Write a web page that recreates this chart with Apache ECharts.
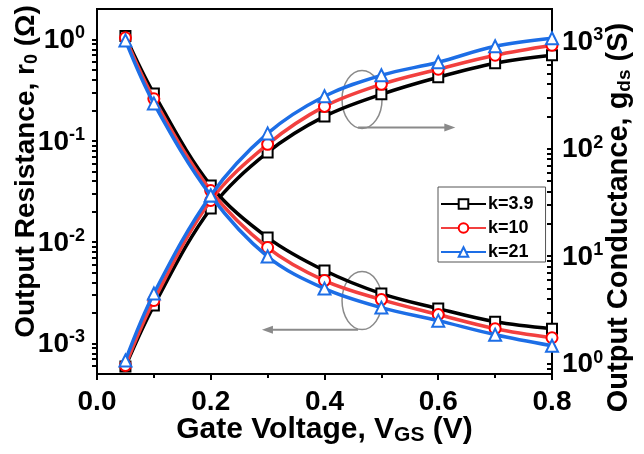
<!DOCTYPE html>
<html>
<head>
<meta charset="utf-8">
<script src="https://cdn.jsdelivr.net/npm/echarts@6/dist/echarts.min.js"></script>
<style>
  html, body { margin: 0; padding: 0; background: #fff; }
  #chart { width: 644px; height: 454px; }
</style>
</head>
<body>
<div id="chart"></div>
<script>
// gate voltage points
var vgs = [0.05, 0.1, 0.2, 0.3, 0.4, 0.5, 0.6, 0.7, 0.8];

// output resistance r0 (ohm), left axis
var r0_k39 = [1.08, 0.293, 0.0362, 0.0111, 0.00525, 0.00311, 0.00221, 0.00164, 0.0014];
var r0_k10 = [1.04, 0.26, 0.0323, 0.00885, 0.00418, 0.00271, 0.00193, 0.0014, 0.00114];
var r0_k21 = [0.98, 0.234, 0.0288, 0.00721, 0.00348, 0.00226, 0.00168, 0.00122, 0.00095];

// output conductance gds (S), right axis
var gds_k39 = [0.94, 3.47, 27.8, 92.5, 200, 321, 463, 625, 742];
var gds_k10 = [0.96, 3.87, 33, 110, 248, 398, 550, 742, 920];
var gds_k21 = [1.07, 4.49, 36.8, 139, 308, 483, 639, 900, 1069];

var legendNames = ['k=3.9', 'k=10', 'k=21'];
var rMajor = [1e-3, 1e-2, 1e-1, 1];
var gMajor = [1, 10, 100, 1000];

var font = 'Liberation Sans, Arial, sans-serif';

function pairs(xs, ys) {
    return xs.map(function (x, i) { return [x, ys[i]]; });
}

function minorLogTicks(lo, hi) {
    var out = [];
    for (var e = -4; e <= 4; e++) {
        for (var m = 2; m <= 9; m++) {
            var v = m * Math.pow(10, e);
            if (v > lo && v < hi) out.push(v);
        }
    }
    return out;
}

function powLabel(value) {
    var e = Math.round(Math.log10(value));
    return '{b|10}{sup|' + (e < 0 ? '-' + (-e) : e) + '}';
}

var tickRich = {
    b: { fontSize: 28, fontWeight: 'bold', fontFamily: font, color: '#000', lineHeight: 30, padding: [2, 0, 0, 0], verticalAlign: 'bottom' },
    sup: { fontSize: 18, fontWeight: 'bold', fontFamily: font, color: '#000', lineHeight: 18, verticalAlign: 'top' }
};

function nameRich(size, subSize) {
    return {
        b: { fontSize: size, fontWeight: 'bold', fontFamily: font, color: '#000', lineHeight: size + 1, padding: [0, 0, 8, 0], verticalAlign: 'top' },
        sub: { fontSize: subSize, fontWeight: 'bold', fontFamily: font, color: '#000', lineHeight: subSize + 1, verticalAlign: 'bottom' }
    };
}

var rMin = 5e-4, rMax = 2;
var gMin = 0.8, gMax = 2000;

var colors = ['#000000', '#f2403f', '#1d6ee6'];
var borders = ['#000000', '#ff0000', '#1d6ee6'];
var symbols = ['rect', 'circle', 'triangle'];
var symbolSizes = [10, 11, 12];

function makeSeries(name, idx, data, yAxisIndex) {
    return {
        name: name,
        type: 'line',
        yAxisIndex: yAxisIndex,
        data: pairs(vgs, data),
        smooth: 0.35,
        symbol: symbols[idx],
        symbolSize: symbolSizes[idx],
        showAllSymbol: true,
        lineStyle: { color: colors[idx], width: 3.5 },
        itemStyle: { color: '#fff', borderColor: borders[idx], borderWidth: 2 },
        z: 2 + idx
    };
}

var chartDom = document.getElementById('chart');
var myChart = echarts.init(chartDom, null, { renderer: 'canvas' });

var option = {
    animation: false,
    backgroundColor: '#fff',
    grid: {
        left: 97, right: 92, top: 9, bottom: 80,
        containLabel: false,
        outerBoundsMode: 'none',
        show: true, borderColor: '#000', borderWidth: 2, backgroundColor: 'transparent'
    },
    legend: {
        data: legendNames,
        orient: 'vertical',
        left: 438,
        top: 187,
        itemWidth: 45,
        itemHeight: 12,
        itemGap: 6,
        padding: [8, 12, 1, 2],
        borderColor: '#555',
        borderWidth: 1,
        textStyle: { fontSize: 18, fontWeight: 'bold', fontFamily: font, color: '#000', padding: [0, 0, 0, -3] }
    },
    xAxis: {
        type: 'value',
        min: 0,
        max: 0.8,
        interval: 0.2,
        name: '{b|Gate Voltage, V}{sub|GS}{b| (V)}',
        nameLocation: 'middle',
        nameGap: 41,
        nameMoveOverlap: false,
        nameTextStyle: { rich: nameRich(30, 21) },
        axisLine: { lineStyle: { color: '#000', width: 2 } },
        axisTick: { length: 6, lineStyle: { width: 2, color: '#000' } },
        minorTick: { show: true, splitNumber: 2, length: 4, lineStyle: { width: 2, color: '#000' } },
        splitLine: { show: false },
        axisLabel: {
            margin: 14,
            fontSize: 28, fontWeight: 'bold', fontFamily: font, color: '#000',
            formatter: function (v) { return v.toFixed(1); }
        }
    },
    yAxis: [
        {
            type: 'log',
            logBase: 10,
            min: rMin,
            max: rMax,
            position: 'left',
            name: '{b|Output Resistance, r}{sub|0}{b| (Ω)}',
            nameLocation: 'middle',
            nameGap: 56,
            nameMoveOverlap: false,
            nameTextStyle: { rich: nameRich(28, 18), padding: [0, 0, 0, 40] },
            axisLine: { show: true, lineStyle: { color: '#000', width: 2 } },
            axisTick: { length: 5, lineStyle: { width: 2, color: '#000' }, customValues: rMajor.concat(minorLogTicks(rMin, rMax)) },
            splitLine: { show: false },
            axisLabel: {
                margin: 12,
                customValues: rMajor,
                formatter: powLabel,
                rich: tickRich
            }
        },
        {
            type: 'log',
            logBase: 10,
            min: gMin,
            max: gMax,
            position: 'right',
            name: '{b|Output Conductance, g}{sub|ds}{b| (S)}',
            nameLocation: 'middle',
            nameGap: 52,
            nameMoveOverlap: false,
            nameTextStyle: { rich: nameRich(29, 19), padding: [0, 52, 0, 0] },
            axisLine: { show: true, lineStyle: { color: '#000', width: 2 } },
            axisTick: { inside: true, length: 5, lineStyle: { width: 2, color: '#000' }, customValues: gMajor.concat(minorLogTicks(gMin, gMax)) },
            splitLine: { show: false },
            axisLabel: {
                margin: 10,
                customValues: gMajor,
                formatter: powLabel,
                rich: tickRich
            }
        }
    ],
    series: [
        makeSeries(legendNames[0], 0, r0_k39, 0),
        makeSeries(legendNames[1], 1, r0_k10, 0),
        makeSeries(legendNames[2], 2, r0_k21, 0),
        makeSeries(legendNames[0], 0, gds_k39, 1),
        makeSeries(legendNames[1], 1, gds_k10, 1),
        makeSeries(legendNames[2], 2, gds_k21, 1)
    ]
};

myChart.setOption(option);

// ellipse + arrow callouts, placed in data coordinates
function toPx(x, y, yIdx) {
    return myChart.convertToPixel({ xAxisIndex: 0, yAxisIndex: yIdx }, [x, y]);
}

function arrow(from, to) {
    var dir = to[0] > from[0] ? 1 : -1;
    return [
        {
            type: 'line',
            shape: { x1: from[0], y1: from[1], x2: to[0] - dir * 8, y2: to[1] },
            style: { stroke: '#8a8a8a', lineWidth: 2 }
        },
        {
            type: 'polygon',
            shape: { points: [[to[0], to[1]], [to[0] - dir * 11, to[1] - 4], [to[0] - dir * 11, to[1] + 4]] },
            style: { fill: '#8a8a8a' }
        }
    ];
}

var topC = toPx(0.466, 288, 1);
var topA = toPx(0.459, 158, 1);
var topB = toPx(0.63, 158, 1);
var botC = toPx(0.466, 0.00265, 0);
var botA = toPx(0.459, 0.00137, 0);
var botB = toPx(0.29, 0.00137, 0);

var elements = [
    { type: 'ellipse', shape: { cx: topC[0], cy: topC[1], rx: 20, ry: 29 }, style: { fill: 'none', stroke: '#8a8a8a', lineWidth: 1.5 } },
    { type: 'ellipse', shape: { cx: botC[0], cy: botC[1], rx: 20, ry: 29 }, style: { fill: 'none', stroke: '#8a8a8a', lineWidth: 1.5 } }
].concat(arrow(topA, topB)).concat(arrow(botA, botB));

myChart.setOption({ graphic: elements });
</script>
</body>
</html>
